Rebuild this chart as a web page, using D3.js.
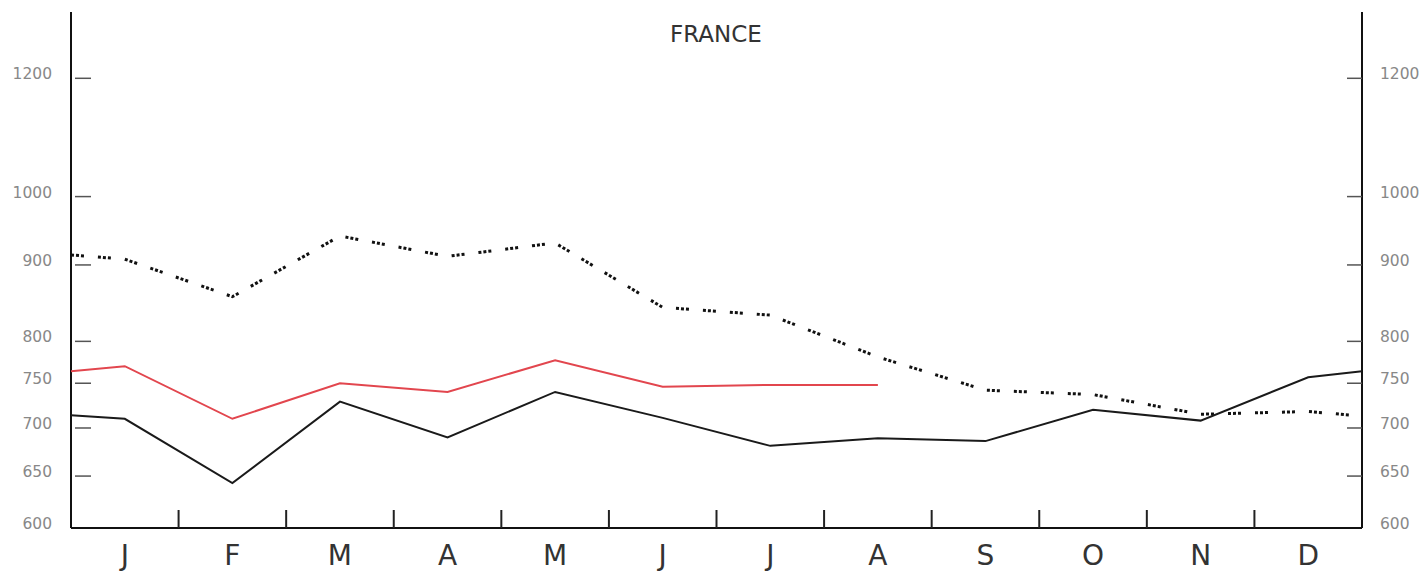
<!DOCTYPE html>
<html>
<head>
<meta charset="utf-8">
<script src="https://cdn.jsdelivr.net/npm/d3@7"></script>
<style>
  body { margin: 0; background: #ffffff; overflow: hidden; }
  text { font-family: "DejaVu Sans", sans-serif; }
</style>
</head>
<body>
<script>
// month labels (one band per month)
var months = ["J", "F", "M", "A", "M", "J", "J", "A", "S", "O", "N", "D"];

// y axis tick values (log scale)
var yTicks = [600, 650, 700, 750, 800, 900, 1000, 1200];

// values at each month centre; edge values carry the line to the frame
var blackStart = 714, blackEnd = 764;
var blackValues = [710, 643, 729, 690, 740, 711, 681, 689, 686, 720, 708, 757];

var redStart = 764;
var redValues = [770, 710, 750, 740, 777, 746, 748, 748];

var dotStart = 914, dotEnd = 713;
var dotValues = [908, 857, 941, 912, 931, 843, 833, 781, 742, 737, 715, 718];

var width = 1425, height = 572;
var frameL = 71, frameR = 1362, frameT = 12, frameB = 528;

var svg = d3.select("body")
  .append("svg")
  .attr("width", width)
  .attr("height", height);

// month index -> x; -0.5 and 11.5 are the frame edges
var x = d3.scaleLinear()
  .domain([-0.5, months.length - 0.5])
  .range([frameL, frameR]);

var y = d3.scaleLog()
  .domain([600, 1200])
  .range([frameB, 78.3]);

// build [index, value] pairs for a series
function points(start, values, end){
  var pts = [[-0.5, start]];
  values.forEach(function(v, i){ pts.push([i, v]); });
  if (end != null) pts.push([months.length - 0.5, end]);
  return pts;
}

var line = d3.line()
  .x(function(d){ return x(d[0]); })
  .y(function(d){ return y(d[1]); });

// title
svg.append("text")
  .attr("x", 716)
  .attr("y", 42)
  .attr("text-anchor", "middle")
  .attr("font-size", 23)
  .attr("fill", "#333")
  .text("FRANCE");

// frame: left, right and bottom lines
var frame = svg.append("g")
  .attr("stroke", "#111")
  .attr("stroke-width", 2);
frame.append("line").attr("x1", frameL).attr("x2", frameL).attr("y1", frameT).attr("y2", frameB);
frame.append("line").attr("x1", frameR).attr("x2", frameR).attr("y1", frameT).attr("y2", frameB);
frame.append("line").attr("x1", frameL).attr("x2", frameR).attr("y1", frameB).attr("y2", frameB);

// y ticks, inside the frame on both sides
var ticks = yTicks.filter(function(v){ return v > 600; });
svg.append("g").selectAll("line")
  .data(ticks)
  .enter()
  .append("line")
  .attr("x1", frameL + 4).attr("x2", frameL + 20)
  .attr("y1", function(d){ return y(d); })
  .attr("y2", function(d){ return y(d); })
  .attr("stroke", "#555").attr("stroke-width", 1.5);
svg.append("g").selectAll("line")
  .data(ticks)
  .enter()
  .append("line")
  .attr("x1", frameR - 15).attr("x2", frameR)
  .attr("y1", function(d){ return y(d); })
  .attr("y2", function(d){ return y(d); })
  .attr("stroke", "#555").attr("stroke-width", 1.5);

// y tick labels
svg.append("g").selectAll("text")
  .data(yTicks)
  .enter()
  .append("text")
  .attr("x", 52)
  .attr("y", function(d){ return y(d) + 1; })
  .attr("text-anchor", "end")
  .attr("font-size", 15.5)
  .attr("fill", "#888")
  .text(function(d){ return d; });
svg.append("g").selectAll("text")
  .data(yTicks)
  .enter()
  .append("text")
  .attr("x", 1380)
  .attr("y", function(d){ return y(d) + 1; })
  .attr("font-size", 15.5)
  .attr("fill", "#888")
  .text(function(d){ return d; });

// month boundary ticks along the bottom
svg.append("g").selectAll("line")
  .data(d3.range(months.length - 1))
  .enter()
  .append("line")
  .attr("x1", function(i){ return x(i + 0.5); })
  .attr("x2", function(i){ return x(i + 0.5); })
  .attr("y1", frameB).attr("y2", frameB - 18)
  .attr("stroke", "#222").attr("stroke-width", 2);

// month labels
svg.append("g").selectAll("text")
  .data(months)
  .enter()
  .append("text")
  .attr("x", function(d, i){ return x(i); })
  .attr("y", 565)
  .attr("text-anchor", "middle")
  .attr("font-size", 28)
  .attr("fill", "#333")
  .text(function(d){ return d; });

// dotted series
svg.append("path")
  .datum(points(dotStart, dotValues, dotEnd))
  .attr("d", line)
  .attr("fill", "none")
  .attr("stroke", "#111")
  .attr("stroke-width", 3)
  .attr("stroke-dasharray", "3,2,3,2,3,14");

// red series
svg.append("path")
  .datum(points(redStart, redValues, null))
  .attr("d", line)
  .attr("fill", "none")
  .attr("stroke", "#e2464e")
  .attr("stroke-width", 2);

// black series
svg.append("path")
  .datum(points(blackStart, blackValues, blackEnd))
  .attr("d", line)
  .attr("fill", "none")
  .attr("stroke", "#1a1a1a")
  .attr("stroke-width", 2);
</script>
</body>
</html>
